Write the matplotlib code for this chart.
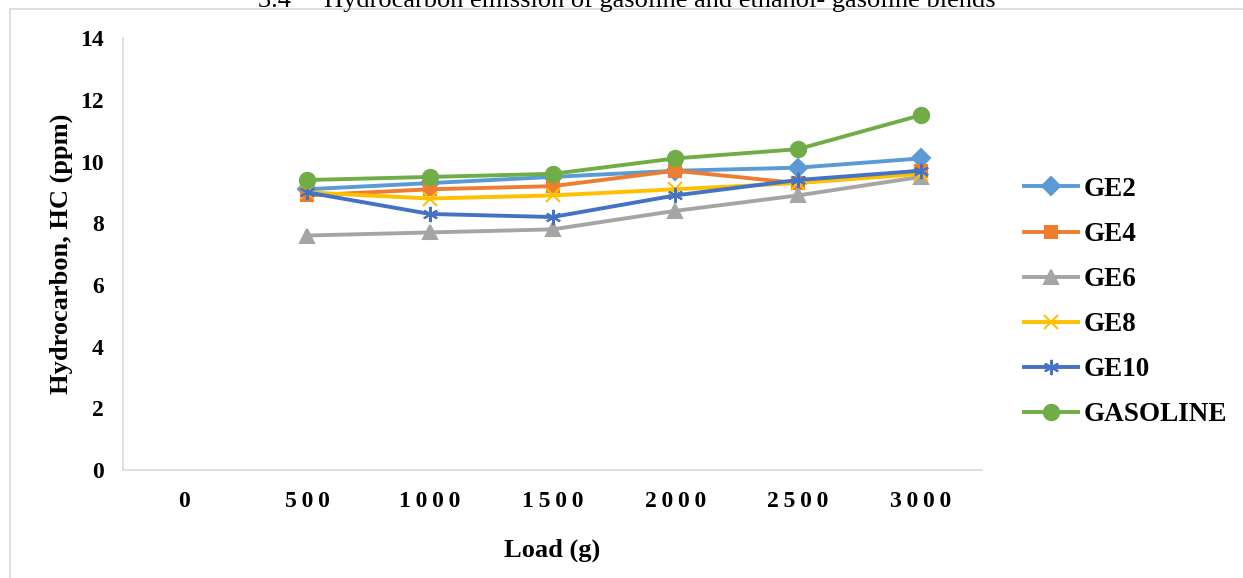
import numpy as np
import matplotlib.pyplot as plt
from matplotlib.patches import Rectangle

plt.rcParams['font.family'] = ['Liberation Serif', 'DejaVu Serif']

# data
loads = ['0', '500', '1000', '1500', '2000', '2500', '3000']
ge2 = [np.nan, 9.1, 9.3, 9.5, 9.7, 9.8, 10.1]
ge4 = [np.nan, 8.9, 9.1, 9.2, 9.7, 9.3, 9.7]
ge6 = [np.nan, 7.6, 7.7, 7.8, 8.4, 8.9, 9.5]
ge8 = [np.nan, 9.0, 8.8, 8.9, 9.1, 9.3, 9.6]
ge10 = [np.nan, 9.0, 8.3, 8.2, 8.9, 9.4, 9.7]
gasoline = [np.nan, 9.4, 9.5, 9.6, 10.1, 10.4, 11.5]

series = [("GE2", ge2, "#5B9BD5", "D", 9),
          ("GE4", ge4, "#ED7D31", "s", 9),
          ("GE6", ge6, "#A5A5A5", "^", 10),
          ("GE8", ge8, "#FFC000", "x", 10),
          ("GE10", ge10, "#4472C4", (6, 2, 0), 11),
          ("GASOLINE", gasoline, "#70AD47", "o", 11)]

fig = plt.figure(figsize=(12.43, 5.78), dpi=100)
ax = fig.add_axes([0.099, 0.187, 0.691, 0.747])

x = np.arange(len(loads))
for name, vals, col, mk, ms in series:
    ax.plot(x, vals, color=col, lw=2.8, marker=mk, markersize=ms,
            markeredgewidth=1.5, markerfacecolor=col, markeredgecolor=col, label=name)

ax.set_xlim(-0.5, len(loads) - 0.5)
ax.set_ylim(0, 14)
ax.set_yticks(range(0, 15, 2))
ax.set_xticks(x)
ax.set_xticklabels(['\u2009'.join(s) for s in loads], fontweight='bold', fontsize=17)
for t in ax.get_yticklabels():
    t.set_fontweight('bold')
    t.set_fontsize(17)
ax.tick_params(length=0, pad=14)
ax.tick_params(axis='x', pad=15)
for s in ['top', 'right']:
    ax.spines[s].set_visible(False)
for s in ['left', 'bottom']:
    ax.spines[s].set_color('#D9D9D9')
    ax.spines[s].set_linewidth(1.2)

ax.set_xlabel("Load (g)", fontsize=19, fontweight='bold', labelpad=19)
ax.set_ylabel("Hydrocarbon, HC (ppm)", fontsize=19, fontweight='bold', labelpad=5)

fig.legend(loc='upper left', bbox_to_anchor=(0.804, 0.736), frameon=False,
           prop={'weight': 'bold', 'size': 19.5}, handlelength=2.0,
           labelspacing=0.74, handletextpad=0.2)

fig.patches.append(Rectangle((0.008, -0.1), 1.1, 1.084, transform=fig.transFigure,
                             fill=False, edgecolor='#D9D9D9', lw=1.2))
fig.text(0.504, 0.988, "3.4     Hydrocarbon emission of gasoline and ethanol- gasoline blends",
         ha='center', va='baseline', fontsize=19)

plt.savefig("out.png", dpi=100)
